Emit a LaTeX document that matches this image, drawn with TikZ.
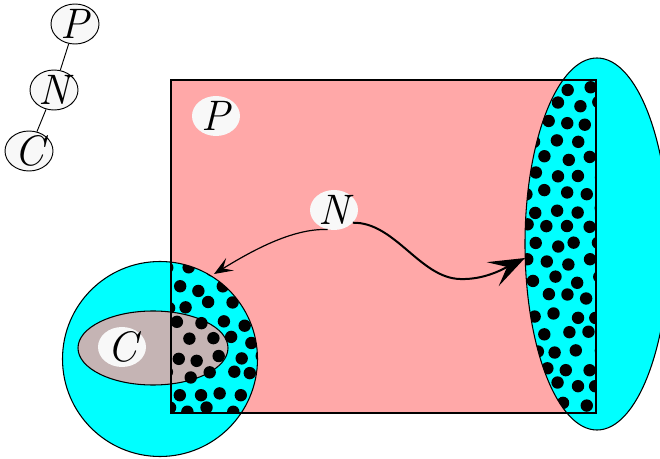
\documentclass[tikz,border=0pt]{standalone}
\usepackage{fontspec}
\usetikzlibrary{shapes.geometric,arrows.meta}
\definecolor{pinkbg}{RGB}{255,168,168}
\definecolor{cyanbg}{RGB}{0,255,255}
\definecolor{grayell}{RGB}{197,180,180}
\definecolor{labelbg}{RGB}{248,248,248}
\newcommand{\lblt}[1]{\smash{\raisebox{-0.34em}{\makebox[0pt]{#1}}}}
\tikzset{
  lbl/.style={ellipse, fill=labelbg, inner sep=0pt, minimum width=36pt, minimum height=30pt, font=\fontsize{32}{34}\selectfont\itshape},
  treenode/.style={lbl, draw=black, line width=0.7pt},
  border/.style={draw=black, line width=0.8pt},
  dot/.style={fill=black},
  thinarrow/.style={line width=0.9pt, -{Stealth[length=14pt,width=11pt,inset=6pt]}},
  thickarrow/.style={line width=1.5pt, -{Stealth[length=27pt,width=20pt,inset=12pt]}}
}
\begin{document}
\begin{tikzpicture}[x=0.75pt,y=-0.75pt]
\useasboundingbox (0,0) rectangle (660,459);
% fills
\fill[pinkbg] (171,80) rectangle (596,413);
\fill[cyanbg] (597,244) ellipse [x radius=72, y radius=186];
\fill[cyanbg] (160,359) circle [radius=97.5];
\fill[grayell] (153,348) ellipse [x radius=75, y radius=37];
% dots, right region
\pgfmathsetseed{11}
\begin{scope}
  \clip (171,80) rectangle (596,413);
  \clip (597,244) ellipse [x radius=72, y radius=186];
  \foreach \i in {0,...,21} {
    \foreach \j in {0,...,4} {
      \pgfmathsetmacro\xx{514+\j*21+mod(\i,2)*10.5+rand*3.5}
      \pgfmathsetmacro\yy{70+\i*17.5+rand*3.5}
      \fill[dot] (\xx,\yy) circle [radius=6.2];
    }
  }
\end{scope}
% dots, circle region
\begin{scope}
  \clip (171,80) rectangle (596,413);
  \clip (160,359) circle [radius=97.5];
  \foreach \i in {0,...,10} {
    \foreach \j in {0,...,4} {
      \pgfmathsetmacro\xx{168+\j*21+mod(\i,2)*10.5+rand*3.5}
      \pgfmathsetmacro\yy{270+\i*17.5+rand*3.5}
      \fill[dot] (\xx,\yy) circle [radius=6.2];
    }
  }
\end{scope}
% borders
\draw[border] (171,80) rectangle (596,413);
\draw[border] (597,244) ellipse [x radius=72, y radius=186];
\draw[border] (160,359) circle [radius=97.5];
\draw[border] (153,348) ellipse [x radius=75, y radius=37];
% labels
\node[lbl] (Plbl) at (216,116) {\lblt{P}};
\node[lbl] (Clbl) at (122,347) {\lblt{C}};
\node[lbl] (N) at (334,210) {\lblt{N}};
% connectors
\coordinate (L) at (214,274);
\coordinate (R) at (525,258);
\draw[thinarrow] (N.252) .. controls (292,228) and (250,252) .. (L);
\draw[thickarrow] (N.326) .. controls (395,222) and (420,278) .. (460,279) .. controls (485,280) and (505,268) .. (R);
% tree
\node[treenode] (tP) at (75,24) {\lblt{P}};
\node[treenode] (tN) at (54,90) {\lblt{N}};
\node[treenode] (tC) at (29,151) {\lblt{C}};
\draw[line width=0.7pt] (tP) -- (tN);
\draw[line width=0.7pt] (tN) -- (tC);
\end{tikzpicture}
\end{document}
